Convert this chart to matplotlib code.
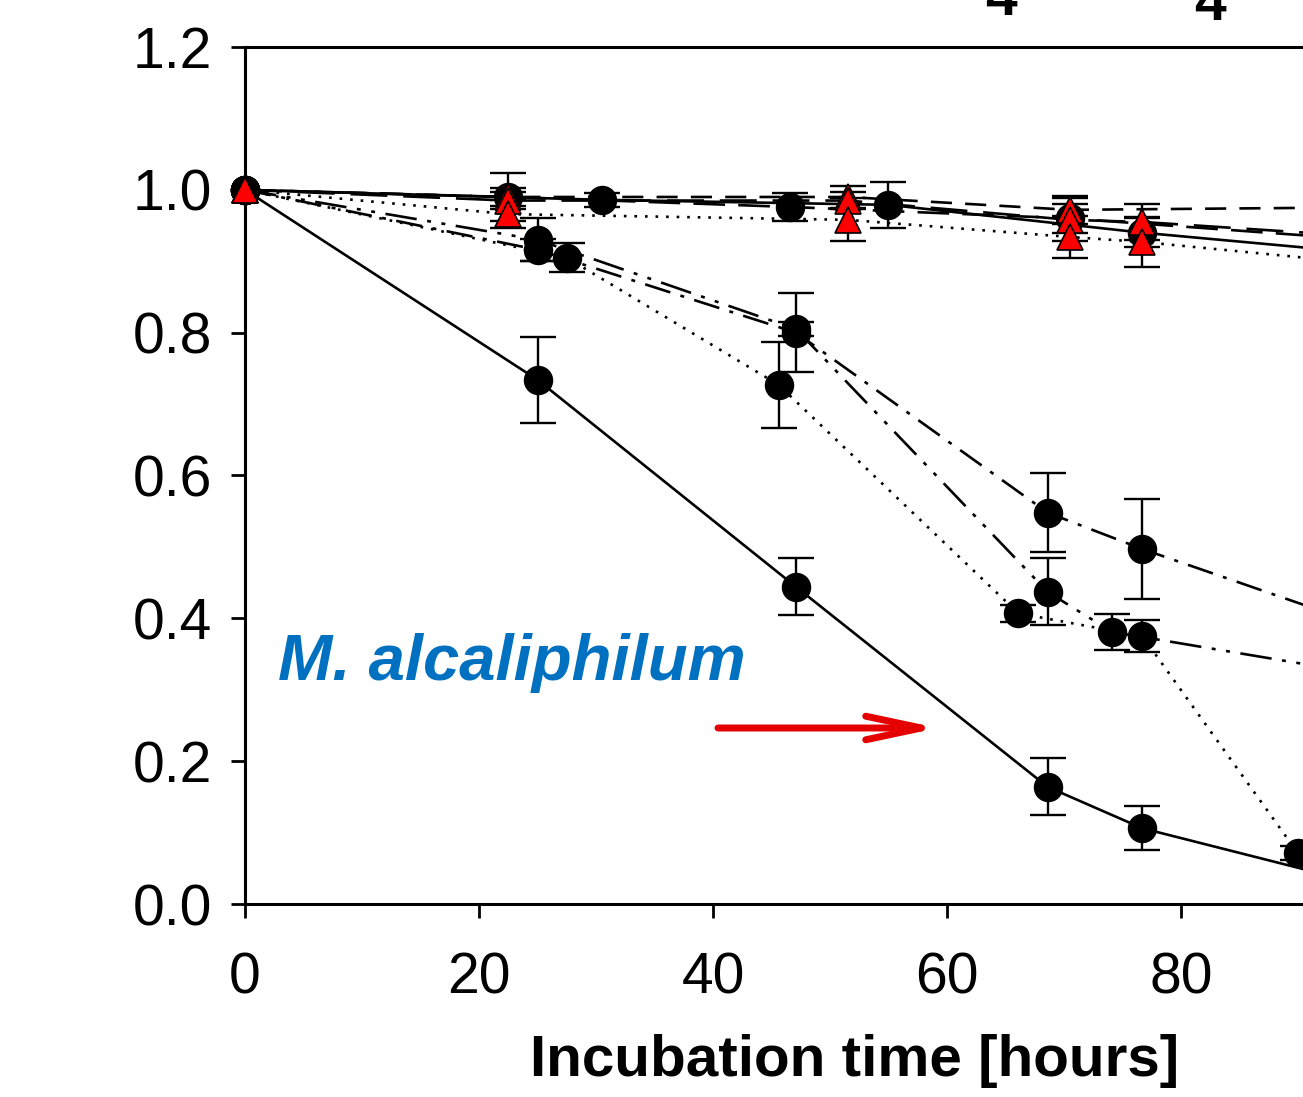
import matplotlib.pyplot as plt
import numpy as np

plt.rcParams['font.family'] = ['Liberation Sans', 'DejaVu Sans']

# falling curves (circles)
x_solid = [0, 25.0, 47.1, 68.6, 76.7, 95]
y_solid = [1.0, 0.734, 0.444, 0.164, 0.106, 0.03]
e_solid = [0, 0.06, 0.04, 0.04, 0.031, 0]

x_dot = [0, 27.5, 45.6, 66.1, 76.7, 90.0, 100]
y_dot = [1.0, 0.905, 0.727, 0.407, 0.375, 0.071, 0.03]
e_dot = [0, 0.02, 0.06, 0.012, 0.022, 0.01, 0]

x_dd = [0, 25.0, 47.1, 68.6, 74.1, 100]
y_dd = [1.0, 0.93, 0.805, 0.437, 0.381, 0.31]
e_dd = [0, 0.03, 0.01, 0.047, 0.025, 0]

x_dashdot = [0, 25.0, 47.1, 68.6, 76.7, 100]
y_dashdot = [1.0, 0.916, 0.80, 0.548, 0.497, 0.365]
e_dashdot = [0, 0.015, 0.055, 0.055, 0.07, 0]

# flat curves (circles)
x_flat1 = [0, 30.5, 55.0, 76.7, 100]
y_flat1 = [1.0, 0.986, 0.979, 0.94, 0.905]
e_flat1 = [0, 0.01, 0.032, 0.02, 0]

x_flat2 = [0, 22.5, 46.6, 70.5, 100]
y_flat2 = [1.0, 0.99, 0.976, 0.96, 0.925]
e_flat2 = [0, 0.012, 0.02, 0.02, 0]

# flat curves (triangles)
x_tri1 = [0, 22.5, 51.5, 70.5, 100]
y_tri1 = [1.0, 0.99, 0.99, 0.972, 0.976]
e_tri1 = [0, 0.034, 0.016, 0.02, 0]

x_tri2 = [0, 22.5, 51.5, 70.5, 76.7, 100]
y_tri2 = [1.0, 0.985, 0.985, 0.958, 0.955, 0.93]
e_tri2 = [0, 0.012, 0.012, 0.03, 0.025, 0]

x_tri3 = [0, 22.5, 51.5, 70.5, 76.7, 100]
y_tri3 = [1.0, 0.966, 0.958, 0.934, 0.927, 0.89]
e_tri3 = [0, 0.02, 0.03, 0.03, 0.035, 0]

fig = plt.figure(figsize=(13.03, 10.97), dpi=100)
W, H = 1303, 1097
px_per_x = 11.7
xmax = 120
ax = fig.add_axes([245 / W, (H - 904) / H, xmax * px_per_x / W, (904 - 47) / H])

def curve(x, y, e, ls, marker='o', fc='black', ms=20, z=3):
    x = np.array(x); y = np.array(y); e = np.array(e)
    ax.plot(x, y, color='black', lw=1.9, linestyle=ls, zorder=z)
    m = e > 0
    ax.errorbar(x[m], y[m], yerr=e[m], fmt='none', ecolor='black',
                elinewidth=1.7, capsize=13, capthick=1.7, zorder=z)
    keep = x < 91
    ax.plot(x[keep], y[keep], linestyle='none', marker=marker, ms=ms,
            mfc=fc, mec='black', mew=1.2, zorder=z + 1, clip_on=False)

curve(x_solid, y_solid, e_solid, '-')
curve(x_dot, y_dot, e_dot, (0, (1, 3)))
curve(x_dd, y_dd, e_dd, (0, (12, 4, 1.5, 4, 1.5, 4)))
curve(x_dashdot, y_dashdot, e_dashdot, (0, (10, 4, 1.5, 4)))
curve(x_flat1, y_flat1, e_flat1, '-')
curve(x_flat2, y_flat2, e_flat2, (0, (12, 5)))
curve(x_tri1, y_tri1, e_tri1, (0, (8, 5)), marker='^', fc='red', ms=19, z=5)
curve(x_tri2, y_tri2, e_tri2, (0, (14, 6)), marker='^', fc='red', ms=19, z=5)
curve(x_tri3, y_tri3, e_tri3, (0, (1, 3)), marker='^', fc='red', ms=19, z=5)

ax.set_xlim(0, xmax)
ax.set_ylim(0, 1.2)
ax.set_xticks(np.arange(0, 81, 20))
ax.set_yticks(np.arange(0, 1.21, 0.2))
ax.set_yticklabels(['0.0', '0.2', '0.4', '0.6', '0.8', '1.0', '1.2'])
ax.tick_params(direction='out', length=10, width=2, labelsize=41)
ax.tick_params(axis='x', pad=24)
ax.tick_params(axis='y', pad=14)
for s in ax.spines.values():
    s.set_linewidth(2.2)

ax.set_xlabel('Incubation time [hours]', fontsize=42, fontweight='bold')
ax.xaxis.set_label_coords((855 - 245) / (xmax * px_per_x), -0.152)

ax.text(0.213, (H - 663) / H, 'M. alcaliphilum', transform=fig.transFigure,
        fontsize=47, fontweight='bold', style='italic', color='#0070C0',
        va='center', ha='left')
ax.annotate('', xy=(938 / W, (H - 728) / H), xytext=(718 / W, (H - 728) / H),
            xycoords='figure fraction', textcoords='figure fraction',
            arrowprops=dict(arrowstyle='->,head_length=4,head_width=0.85',
                            color='#e50000', lw=5, shrinkA=0, shrinkB=0))

fig.text(1001 / W, (H - 15) / H, '4', fontsize=41, fontweight='bold',
         ha='center', va='baseline')
fig.text(1210 / W, (H - 20) / H, '4', fontsize=41, fontweight='bold',
         ha='center', va='baseline')

fig.savefig('out.png', dpi=100)
